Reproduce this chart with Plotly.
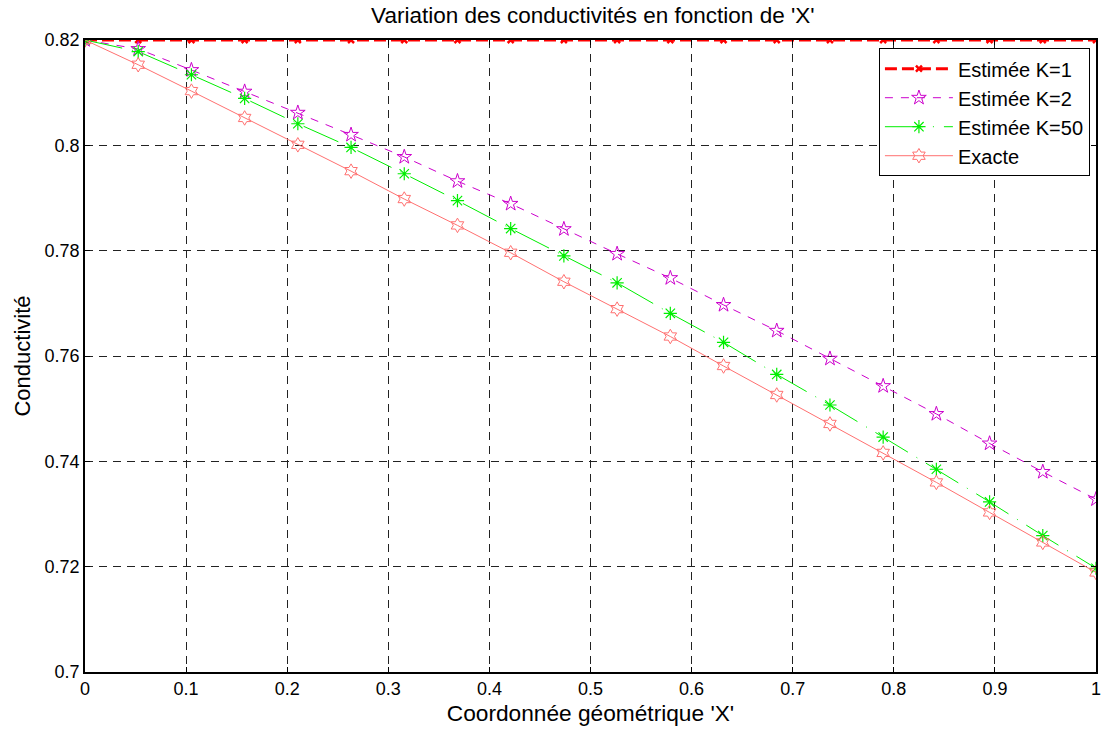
import plotly.graph_objects as go

x = [i / 19 for i in range(20)]
k1 = [0.82] * 20
k2 = [0.82, 0.8183, 0.8143, 0.8102, 0.8062, 0.8020, 0.7978, 0.7932, 0.7889, 0.7841,
      0.7794, 0.7748, 0.7697, 0.7648, 0.7595, 0.7543, 0.7490, 0.7434, 0.7380, 0.7328]
k50 = [0.82, 0.8178, 0.8134, 0.8089, 0.8041, 0.7996, 0.7946, 0.7895, 0.7842, 0.7790,
       0.7739, 0.7681, 0.7626, 0.7565, 0.7507, 0.7446, 0.7385, 0.7323, 0.7259, 0.7197]
exacte = [0.82, 0.8153, 0.8103, 0.8052, 0.8001, 0.7951, 0.7898, 0.7848, 0.7796, 0.7741,
          0.7689, 0.7637, 0.7581, 0.7526, 0.7471, 0.7416, 0.7360, 0.7303, 0.7246, 0.7189]

xticks = [0, 0.1, 0.2, 0.3, 0.4, 0.5, 0.6, 0.7, 0.8, 0.9, 1]
xticklabels = ["0", "0.1", "0.2", "0.3", "0.4", "0.5", "0.6", "0.7", "0.8", "0.9", "1"]
yticks = [0.7, 0.72, 0.74, 0.76, 0.78, 0.8, 0.82]
yticklabels = ["0.7", "0.72", "0.74", "0.76", "0.78", "0.8", "0.82"]

FONT = "Liberation Sans, Arial, sans-serif"

fig = go.Figure()
fig.add_trace(go.Scatter(
    x=x, y=k1, mode="lines+markers", name="Estimée K=1",
    line=dict(color="#FF0000", width=3, dash="12px,5px"),
    marker=dict(symbol="x-thin-open", size=6, color="#FF0000",
                line=dict(color="#FF0000", width=2.5)),
))
fig.add_trace(go.Scatter(
    x=x, y=k2, mode="lines+markers", name="Estimée K=2",
    line=dict(color="#CC00CC", width=1, dash="8px,8px"),
    marker=dict(symbol="star-open", size=11, color="#CC00CC",
                line=dict(color="#CC00CC", width=1)),
))
fig.add_trace(go.Scatter(
    x=x, y=k50, mode="lines+markers", name="Estimée K=50",
    line=dict(color="#00EE00", width=1, dash="38px,10px,1px,10px"),
    marker=dict(symbol="asterisk-open", size=11, color="#00EE00",
                line=dict(color="#00EE00", width=1.2)),
))
fig.add_trace(go.Scatter(
    x=x, y=exacte, mode="lines+markers", name="Exacte",
    line=dict(color="#FF7070", width=1),
    marker=dict(symbol="hexagram-open", size=11, color="#FF7070",
                line=dict(color="#FF7070", width=1)),
))

fig.update_layout(
    width=1107, height=733,
    margin=dict(l=85, r=6, t=40, b=61),
    paper_bgcolor="white", plot_bgcolor="white",
    font=dict(family=FONT, size=18, color="black"),
    title=dict(text="Variation des conductivités en fonction de 'X'",
               x=0.5355, xanchor="center", y=0.979, yanchor="middle",
               font=dict(size=22.5, family=FONT, color="black")),
    showlegend=True,
    legend=dict(x=0.994, xanchor="right", y=0.987, yanchor="top",
                bgcolor="white", bordercolor="black", borderwidth=1,
                font=dict(size=20, family=FONT, color="black"),
                itemwidth=68, tracegroupgap=0),
)
fig.update_xaxes(
    range=[0, 1], tickvals=xticks, ticktext=xticklabels,
    showline=True, linecolor="black", linewidth=1.5, mirror="ticks",
    ticks="inside", ticklen=5, tickcolor="black",
    showgrid=True, gridcolor="#222222", gridwidth=1, griddash="8px,6px",
    zeroline=False, tickfont=dict(size=18, family=FONT),
    title=dict(text="Coordonnée géométrique 'X'", font=dict(size=22.7, family=FONT), standoff=7),
)
fig.update_yaxes(
    range=[0.7, 0.82], tickvals=yticks, ticktext=yticklabels,
    showline=True, linecolor="black", linewidth=1.5, mirror="ticks",
    ticks="inside", ticklen=5, tickcolor="black",
    showgrid=True, gridcolor="#222222", gridwidth=1, griddash="8px,6px",
    zeroline=False, tickfont=dict(size=18, family=FONT),
    title=dict(text="Conductivité", font=dict(size=22, family=FONT), standoff=8),
)

fig.write_html("out.html")
